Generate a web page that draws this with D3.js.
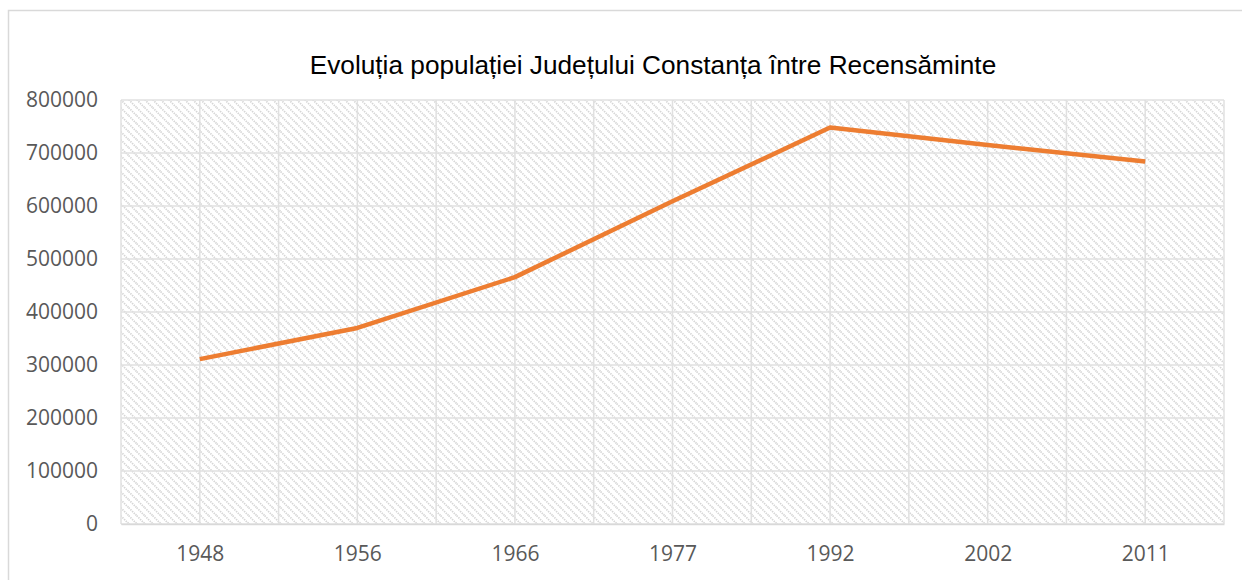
<!DOCTYPE html>
<html>
<head>
<meta charset="utf-8">
<script src="https://cdn.jsdelivr.net/npm/d3@7"></script>
<style>
  html, body { margin: 0; padding: 0; background: #fff; }
  svg { display: block; }
</style>
</head>
<body>
<div id="chart"></div>
<script>
// Census years and population of Constanța county
const years = ["1948", "1956", "1966", "1977", "1992", "2002", "2011"];
const population = [311062, 369940, 465752, 608817, 748044, 715151, 684082];
const yTicks = [0, 100000, 200000, 300000, 400000, 500000, 600000, 700000, 800000];
const title = "Evoluția populației Județului Constanța între Recensăminte";

const W = 1242, H = 580;
const margin = { top: 100, right: 18, bottom: 56, left: 121 };
const width = W - margin.left - margin.right,
    height = H - margin.top - margin.bottom;

const svg = d3.select("#chart")
    .append("svg")
    .attr("width", W)
    .attr("height", H);

// hatch fill like the Excel plot area
const defs = svg.append("defs");
const pat = defs.append("pattern")
    .attr("id", "hatch")
    .attr("patternUnits", "userSpaceOnUse")
    .attr("width", 8)
    .attr("height", 8);
pat.append("path")
    .attr("d", "M-2,-2 L10,10 M-2,6 L2,10 M6,-2 L10,2")
    .attr("stroke", "#d6d6d6")
    .attr("stroke-width", 1.8)
    .attr("stroke-dasharray", "1.4,1");

// outer chart border
svg.append("rect")
    .attr("x", 8.5).attr("y", 10.5)
    .attr("width", 1240).attr("height", 600)
    .attr("fill", "none")
    .attr("stroke", "#d9d9d9")
    .attr("stroke-width", 1.5);

// title, sized so its width matches the original (~687px)
const titleText = svg.append("text")
    .attr("x", 653)
    .attr("y", 74)
    .attr("text-anchor", "middle")
    .attr("font-family", "'Liberation Sans', Arial, sans-serif")
    .attr("font-size", 24)
    .attr("fill", "#000")
    .text(title);
const tw = titleText.node().getComputedTextLength();
titleText.attr("font-size", 24 * 687 / tw);

const g = svg.append("g")
    .attr("transform", "translate(" + margin.left + "," + margin.top + ")");

const xBand = d3.scaleBand().domain(years).range([0, width]);
const x = d3.scalePoint().domain(years).range([0, width]).padding(0.5);
const y = d3.scaleLinear().domain([0, 800000]).range([height, 0]);

// plot area background
g.append("rect")
    .attr("width", width)
    .attr("height", height)
    .attr("fill", "url(#hatch)");

// horizontal gridlines
g.append("g")
    .selectAll("line")
    .data(yTicks)
    .join("line")
    .attr("x1", 0).attr("x2", width)
    .attr("y1", d => y(d)).attr("y2", d => y(d))
    .attr("stroke", "#e0e0e0")
    .attr("stroke-width", 1.5);

// vertical gridlines at band edges and centres
const vlines = [];
years.forEach(d => { vlines.push(xBand(d)); vlines.push(x(d)); });
vlines.push(width);
g.append("g")
    .selectAll("line")
    .data(vlines)
    .join("line")
    .attr("x1", d => d).attr("x2", d => d)
    .attr("y1", 0).attr("y2", height)
    .attr("stroke", "#e0e0e0")
    .attr("stroke-width", 1.5);

// y axis labels
const yAxis = g.append("g")
    .attr("transform", "translate(-20,0)")
    .call(d3.axisLeft(y).tickValues(yTicks).tickSize(0).tickFormat(d3.format("d")));
yAxis.select(".domain").remove();
yAxis.selectAll("text")
    .attr("font-family", "'Open Sans', sans-serif")
    .attr("font-size", 21)
    .attr("fill", "#595959");

// x axis
const xAxis = g.append("g")
    .attr("transform", "translate(0," + height + ")")
    .call(d3.axisBottom(x).tickSize(0).tickPadding(22));
xAxis.select(".domain")
    .attr("stroke", "#d9d9d9")
    .attr("stroke-width", 1.5);
xAxis.selectAll("text")
    .attr("font-family", "'Open Sans', sans-serif")
    .attr("font-size", 21)
    .attr("fill", "#595959");

// the line
g.append("path")
    .datum(years.map((d, i) => ({ year: d, value: population[i] })))
    .attr("fill", "none")
    .attr("stroke", "#ED7D31")
    .attr("stroke-width", 4.5)
    .attr("stroke-linejoin", "round")
    .attr("d", d3.line()
        .x(d => x(d.year))
        .y(d => y(d.value))
    );
</script>
</body>
</html>
